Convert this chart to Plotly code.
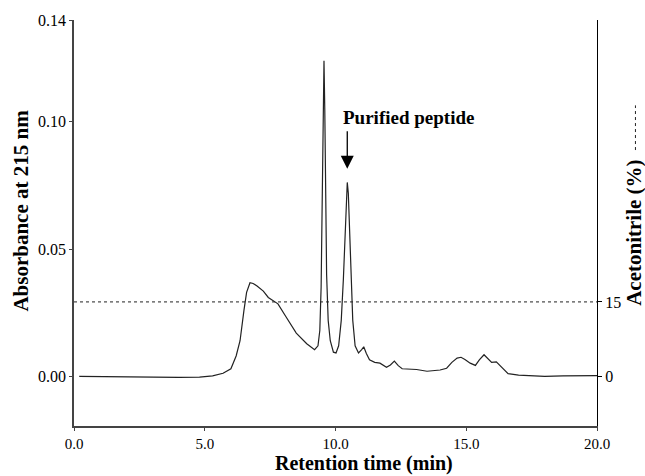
import plotly.graph_objects as go

# Chromatogram (retention time in min, absorbance at 215 nm)
time_min = [0.2, 1.0, 2.0, 3.0, 4.0, 4.8, 5.3, 5.7, 6.0, 6.2, 6.35, 6.5, 6.6, 6.73,
            6.85, 7.0, 7.24, 7.43, 7.6, 7.8, 8.1, 8.5, 8.9, 9.2, 9.33, 9.40, 9.45,
            9.49, 9.53, 9.56, 9.59, 9.62, 9.66, 9.72, 9.80, 9.92, 10.02, 10.12,
            10.22, 10.30, 10.36, 10.41, 10.45, 10.49, 10.54, 10.60, 10.66, 10.75,
            10.88, 11.0, 11.08, 11.18, 11.3, 11.5, 11.7, 11.95, 12.1, 12.25, 12.4,
            12.55, 13.1, 13.5, 14.0, 14.25, 14.45, 14.65, 14.8, 14.95, 15.15, 15.35,
            15.5, 15.68, 15.85, 15.97, 16.15, 16.35, 16.6, 17.0, 17.5, 18.0, 18.7,
            19.4, 20.0]
absorbance = [0.0, -0.0001, -0.0003, -0.0004, -0.0004, -0.0003, 0.0002, 0.0012, 0.003,
              0.008, 0.014, 0.026, 0.033, 0.0368, 0.0365, 0.0355, 0.0335, 0.031, 0.030,
              0.0285, 0.0235, 0.017, 0.0128, 0.0105, 0.012, 0.018, 0.035, 0.07, 0.11,
              0.124, 0.105, 0.07, 0.04, 0.022, 0.014, 0.0095, 0.0092, 0.012, 0.022,
              0.038, 0.056, 0.071, 0.0762, 0.072, 0.058, 0.038, 0.022, 0.012, 0.0092,
              0.0105, 0.0116, 0.009, 0.0065, 0.0055, 0.0052, 0.0036, 0.0045, 0.006,
              0.0042, 0.003, 0.0027, 0.002, 0.0025, 0.0032, 0.0055, 0.0072, 0.0075,
              0.0066, 0.0052, 0.0043, 0.0065, 0.0085, 0.0068, 0.0055, 0.0057, 0.0036,
              0.0011, 0.0005, 0.0003, 0.0, 0.0002, 0.0003, 0.0003]

# Acetonitrile gradient (isocratic 15 %)
acn_time = [0.0, 20.0]
acn_percent = [15, 15]

x_ticks = [0, 5, 10, 15, 20]
x_tick_labels = ["0.0", "5.0", "10.0", "15.0", "20.0"]
y_ticks = [0.0, 0.05, 0.10, 0.14]
y_tick_labels = ["0.00", "0.05", "0.10", "0.14"]
y2_ticks = [0, 15]
y2_tick_labels = ["0", "15"]

peak_time = 10.45
peak_label_y = 0.0816

FONT = "Liberation Serif, Times New Roman, serif"

fig = go.Figure()
fig.add_trace(go.Scatter(x=acn_time, y=acn_percent, mode="lines", yaxis="y2",
                         line=dict(color="#222222", width=1, dash="dot"),
                         showlegend=False, hoverinfo="skip"))
fig.add_trace(go.Scatter(x=time_min, y=absorbance, mode="lines",
                         line=dict(color="#222222", width=1.2),
                         showlegend=False))

fig.update_layout(
    width=645, height=476,
    margin=dict(l=74, r=48, t=17, b=50),
    paper_bgcolor="white", plot_bgcolor="white",
    font=dict(family=FONT, color="black", size=16),
    xaxis=dict(range=[0, 20], tickvals=x_ticks, ticktext=x_tick_labels,
               showgrid=False, zeroline=False, showline=True, linecolor="#444444",
               linewidth=1.5, ticks="outside", ticklen=3, tickcolor="#444444",
               tickfont=dict(size=15, family=FONT)),
    yaxis=dict(range=[-0.0195, 0.14], tickvals=y_ticks, ticktext=y_tick_labels,
               showgrid=False, zeroline=False, showline=True, linecolor="#444444",
               linewidth=1.5, ticks="outside", ticklen=3, tickcolor="#444444",
               tickfont=dict(size=16, family=FONT)),
    yaxis2=dict(range=[-10, 71.8], overlaying="y", side="right",
                tickvals=y2_ticks, ticktext=y2_tick_labels,
                showgrid=False, zeroline=False, showline=True, linecolor="black",
                linewidth=1, ticks="outside", ticklen=4, tickcolor="black",
                tickfont=dict(size=16, family=FONT)),
)

bold = dict(family=FONT, size=21, color="black")
fig.add_annotation(text="<b>Retention time (min)</b>", xref="paper", yref="paper",
                   x=0.5545, y=-0.1225, showarrow=False,
                   font=dict(family=FONT, size=20, color="black"),
                   xanchor="center", yanchor="bottom", borderpad=0)
fig.add_annotation(text="<b>Absorbance at 215 nm</b>", xref="paper", yref="paper",
                   x=-0.1013, y=0.5306, showarrow=False, font=bold, textangle=-90,
                   xanchor="center", yanchor="middle", borderpad=0)
fig.add_annotation(text="<b>Acetonitrile (%)</b>", xref="paper", yref="paper",
                   x=1.0715, y=0.4768, showarrow=False, font=bold, textangle=-90,
                   xanchor="center", yanchor="middle", borderpad=0)
fig.add_shape(type="line", xref="paper", yref="paper", x0=1.0735, x1=1.0735,
              y0=0.6797, y1=0.7897, line=dict(color="#222222", width=1, dash="dot"))

fig.add_annotation(text="<b>Purified peptide</b>", x=12.81, y=0.1016,
                   showarrow=False, font=dict(family=FONT, size=19, color="black"),
                   xanchor="center", yanchor="middle")
fig.add_annotation(text="", x=peak_time, y=peak_label_y, ax=0, ay=-39,
                   showarrow=True, arrowhead=2, arrowsize=2, arrowwidth=1.3,
                   arrowcolor="black")

fig.write_html("out.html")
